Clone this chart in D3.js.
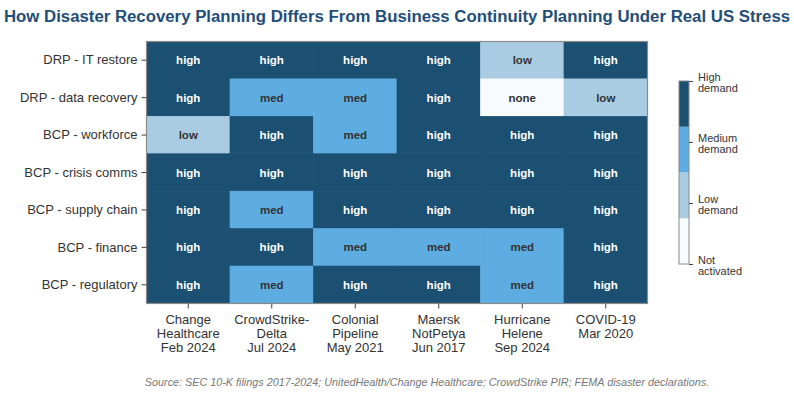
<!DOCTYPE html>
<html><head><meta charset="utf-8">
<script src="https://cdn.jsdelivr.net/npm/d3@7"></script>
<style>body{margin:0;background:#fff}svg{display:block}text{font-family:"Liberation Sans",Arial,sans-serif}</style>
</head><body><svg id="c" width="794" height="400"></svg>
<script>
const rows = ["DRP - IT restore","DRP - data recovery","BCP - workforce","BCP - crisis comms","BCP - supply chain","BCP - finance","BCP - regulatory"];
const cols = [["Change","Healthcare","Feb 2024"],["CrowdStrike-","Delta","Jul 2024"],["Colonial","Pipeline","May 2021"],["Maersk","NotPetya","Jun 2017"],["Hurricane","Helene","Sep 2024"],["COVID-19","Mar 2020"]];
// 3=high 2=med 1=low 0=none
const values = [
  [3,3,3,3,1,3],
  [3,2,2,3,0,1],
  [1,3,2,3,3,3],
  [3,3,3,3,3,3],
  [3,2,3,3,3,3],
  [3,3,2,2,2,3],
  [3,2,3,3,2,3]
];
const levelText = ["none","low","med","high"];
const levelColors = ["#f7fbfe","#a9cce3","#5dade2","#1b5072"];
const legendLabels = [["Not","activated"],["Low","demand"],["Medium","demand"],["High","demand"]];
const title = "How Disaster Recovery Planning Differs From Business Continuity Planning Under Real US Stress";
const source = "Source: SEC 10-K filings 2017-2024; UnitedHealth/Change Healthcare; CrowdStrike PIR; FEMA disaster declarations.";

const svg = d3.select("#c");
const L=146.5, R=647.5, T=41.5, B=303.5;
const x = d3.scaleBand().domain(d3.range(cols.length)).range([L,R]);
const y = d3.scaleBand().domain(d3.range(rows.length)).range([T,B]);
const color = d3.scaleOrdinal().domain([0,1,2,3]).range(levelColors);

svg.append("text").attr("x",397).attr("y",22).attr("text-anchor","middle")
  .attr("font-size",16.8).attr("font-weight","bold").attr("fill","#1f4e79").text(title);

const cells = [];
values.forEach((r,i)=>r.forEach((v,j)=>cells.push({i,j,v})));
svg.append("g").selectAll("rect").data(cells).join("rect")
  .attr("x",d=>x(d.j)).attr("y",d=>y(d.i)).attr("width",x.bandwidth()).attr("height",y.bandwidth())
  .attr("fill",d=>color(d.v)).attr("stroke",d=>color(d.v)).attr("stroke-width",0.7);
svg.append("g").selectAll("text").data(cells).join("text")
  .attr("x",d=>x(d.j)+x.bandwidth()/2).attr("y",d=>y(d.i)+y.bandwidth()/2).attr("dy","0.35em")
  .attr("text-anchor","middle").attr("font-size",11.5).attr("font-weight","bold")
  .attr("fill",d=>d.v===3?"#fff":"#333").text(d=>levelText[d.v]);
svg.append("rect").attr("x",L).attr("y",T).attr("width",R-L).attr("height",B-T)
  .attr("fill","none").attr("stroke","#8a8a8a").attr("stroke-width",1.2);

// y axis
const ya = svg.append("g").attr("transform",`translate(${L},0)`)
  .call(d3.axisLeft(y).tickSize(5).tickPadding(4).tickFormat(i=>rows[i]));
ya.select(".domain").remove();
ya.selectAll("line").attr("stroke","#444");
ya.selectAll("text").attr("font-size",13).attr("fill","#333").attr("font-family","Liberation Sans, Arial, sans-serif");

// x axis
const xa = svg.append("g").attr("transform",`translate(0,${B})`)
  .call(d3.axisBottom(x).tickSize(5).tickFormat(""));
xa.select(".domain").remove();
xa.selectAll("line").attr("stroke","#444");
xa.selectAll(".tick").each(function(i){
  const t = d3.select(this).append("text").attr("fill","#333").attr("font-size",13).attr("text-anchor","middle");
  cols[i].forEach((s,k)=>t.append("tspan").attr("x",0).attr("y",20+k*14).text(s));
});

// legend colorbar
const cbX=679, cbW=10, cbT=81, cbB=264;
const ly = d3.scaleLinear().domain([0,3]).range([cbB,cbT]);
const seg = (cbB-cbT)/4;
svg.append("g").selectAll("rect").data([0,1,2,3]).join("rect")
  .attr("x",cbX).attr("y",d=>cbB-(d+1)*seg).attr("width",cbW).attr("height",seg).attr("fill",d=>color(d));
svg.append("rect").attr("x",cbX).attr("y",cbT).attr("width",cbW).attr("height",cbB-cbT)
  .attr("fill","none").attr("stroke","#8a8a8a").attr("stroke-width",1);
const la = svg.append("g").attr("transform",`translate(${cbX+cbW},0)`)
  .call(d3.axisRight(ly).tickValues([0,1,2,3]).tickSize(4).tickFormat(""));
la.select(".domain").remove();
la.selectAll("line").attr("stroke","#444");
la.selectAll(".tick").each(function(v){
  const t = d3.select(this).append("text").attr("fill","#333").attr("font-size",11).attr("text-anchor","start");
  legendLabels[v].forEach((s,k)=>t.append("tspan").attr("x",9).attr("y",-1+k*11.5).text(s));
});

svg.append("text").attr("x",427).attr("y",386).attr("text-anchor","middle")
  .attr("font-size",10.8).attr("font-style","italic").attr("fill","#777").text(source);
</script></body></html>
